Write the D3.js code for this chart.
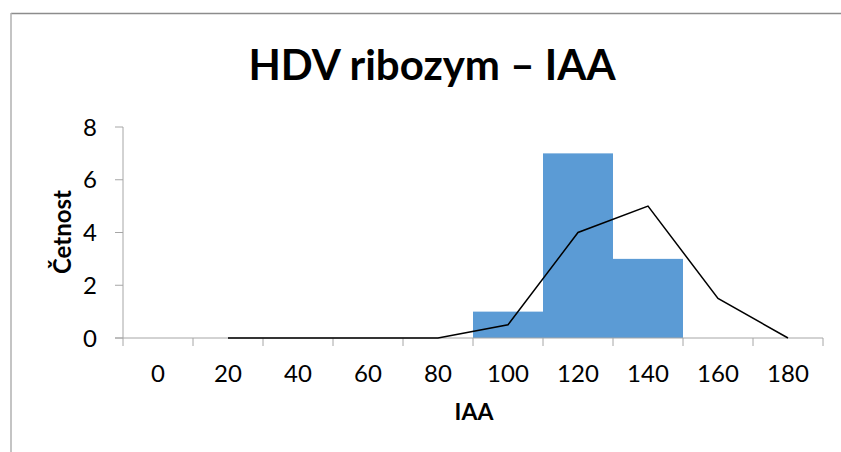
<!DOCTYPE html>
<html>
<head>
<meta charset="utf-8">
<script src="https://cdn.jsdelivr.net/npm/d3@7"></script>
<style>
  body { margin: 0; background: #fff; }
  text { font-family: Lato, "Open Sans", sans-serif; fill: #000; }
</style>
</head>
<body>
<div id="chart"></div>
<script>
// histogram bins (category labels), counts and the frequency polygon
const categories = ["0", "20", "40", "60", "80", "100", "120", "140", "160", "180"];
const counts = [0, 0, 0, 0, 0, 1, 7, 3, 0, 0];
const polygon = [null, 0, 0, 0, 0, 0.5, 4, 5, 1.5, 0];
const yTicks = [0, 2, 4, 6, 8];

let width = 841, height = 452;
let margin = { top: 127, right: 18, bottom: 114, left: 123 };
let innerW = width - margin.left - margin.right,
    innerH = height - margin.top - margin.bottom;

let svg = d3.select("#chart").append("svg")
    .attr("width", width)
    .attr("height", height);

// chart frame (only top/left visible in the crop)
svg.append("line").attr("x1", 11).attr("x2", width).attr("y1", 13.5).attr("y2", 13.5)
    .attr("stroke", "#8c8c8c").attr("stroke-width", 1.5);
svg.append("line").attr("x1", 11).attr("x2", 11).attr("y1", 13).attr("y2", height)
    .attr("stroke", "#b0b0b0").attr("stroke-width", 1.5);

let g = svg.append("g")
    .attr("transform", "translate(" + margin.left + "," + margin.top + ")");

let x = d3.scaleBand().domain(categories).range([0, innerW]).padding(0);
let y = d3.scaleLinear().domain([0, 8]).range([innerH, 0]);

// bars
g.selectAll(".bar")
    .data(categories.map((c, i) => ({ c: c, v: counts[i] })).filter(d => d.v > 0))
    .enter().append("rect")
    .attr("class", "bar")
    .attr("x", d => x(d.c))
    .attr("y", d => y(d.v))
    .attr("width", x.bandwidth())
    .attr("height", d => innerH - y(d.v))
    .attr("fill", "#5b9bd5");

// y axis
let yAxis = g.append("g");
yAxis.append("line").attr("x1", 0).attr("x2", 0).attr("y1", 0).attr("y2", innerH)
    .attr("stroke", "#a6a6a6").attr("stroke-width", 1);
yAxis.selectAll(".ytick").data(yTicks).enter().append("line")
    .attr("x1", -8).attr("x2", 0)
    .attr("y1", d => y(d)).attr("y2", d => y(d))
    .attr("stroke", "#a6a6a6");
yAxis.selectAll(".ylab").data(yTicks).enter().append("text")
    .attr("x", -26).attr("y", d => y(d))
    .attr("dy", "0.36em")
    .attr("text-anchor", "end")
    .style("font-size", "24px")
    .text(d => d);

// x axis
let xAxis = g.append("g").attr("transform", "translate(0," + innerH + ")");
xAxis.append("line").attr("x1", -8).attr("x2", innerW).attr("y1", 0).attr("y2", 0)
    .attr("stroke", "#a6a6a6").attr("stroke-width", 1);
let edges = categories.map(c => x(c)).concat([innerW]);
xAxis.selectAll(".xtick").data(edges).enter().append("line")
    .attr("x1", d => d).attr("x2", d => d)
    .attr("y1", 0).attr("y2", 8)
    .attr("stroke", "#a6a6a6");
xAxis.selectAll(".xlab").data(categories).enter().append("text")
    .attr("x", d => x(d) + x.bandwidth() / 2)
    .attr("y", 44)
    .attr("text-anchor", "middle")
    .style("font-size", "24px")
    .text(d => d);

// frequency polygon
let line = d3.line()
    .defined(d => d.v != null)
    .x(d => x(d.c) + x.bandwidth() / 2)
    .y(d => y(d.v));
g.append("path")
    .datum(categories.map((c, i) => ({ c: c, v: polygon[i] })))
    .attr("d", line)
    .attr("fill", "none")
    .attr("stroke", "#000")
    .attr("stroke-width", 1.5);

// titles
svg.append("text")
    .attr("x", 432).attr("y", 80)
    .attr("text-anchor", "middle")
    .style("font-size", "42px").style("font-weight", "bold")
    .text("HDV ribozym – IAA");
svg.append("text")
    .attr("x", 474).attr("y", 420)
    .attr("text-anchor", "middle")
    .style("font-size", "23px").style("font-weight", "bold")
    .text("IAA");
svg.append("text")
    .attr("transform", "translate(71,232) rotate(-90)")
    .attr("text-anchor", "middle")
    .style("font-size", "24px").style("font-weight", "bold")
    .text("Četnost");
</script>
</body>
</html>
